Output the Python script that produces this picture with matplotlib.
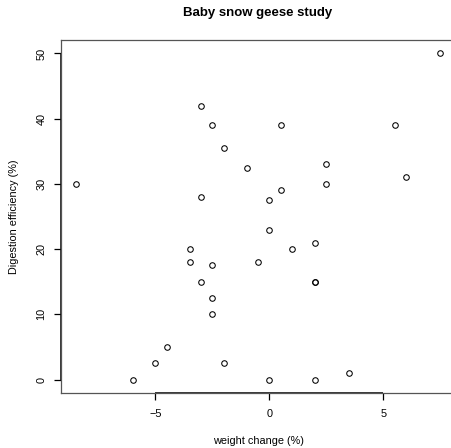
import matplotlib
matplotlib.use("Agg")
import matplotlib.pyplot as plt
import numpy as np

plt.rcParams['font.family'] = ['Liberation Sans', 'DejaVu Sans']

weight_change = [-8.5, -3, -2.5, -2, -1, -3, -3.5, -3.5, -2.5, -0.5,
                 0.5, 5.5, 2.5, 2.5, 6, 0.5, 0, 0, 1, 2,
                 2, 2, -3, -2.5, -2.5, -4.5, -5, -2, -6, 0,
                 2, 3.5, 7.5]
digestion_eff = [30, 42, 39, 35.5, 32.5, 28, 20, 18, 17.5, 18,
                 39, 39, 33, 30, 31, 29, 27.5, 23, 20, 21,
                 15, 15, 15, 12.5, 10, 5, 2.5, 2.5, 0, 0,
                 0, 1, 50]
x_ticks = [-5, 0, 5]
y_ticks = [0, 10, 20, 30, 40, 50]

W, H = 452, 448
fig = plt.figure(figsize=(W / 100, H / 100), dpi=100)
xlim = (-9.14, 8.14)
ylim = (-2, 52)
left_px, top_px, bottom_px = 61, 40.4, 392.7
px_per_x = 22.8
right_px = left_px + (xlim[1] - xlim[0]) * px_per_x
center_px = (left_px + right_px) / 2
ax = fig.add_axes([left_px / W, 1 - bottom_px / H,
                   (right_px - left_px) / W, (bottom_px - top_px) / H])
ax.set_xlim(*xlim)
ax.set_ylim(*ylim)

ax.plot(weight_change, digestion_eff, linestyle='none', marker='o',
        markersize=4.0, markerfacecolor='none', markeredgecolor='black',
        markeredgewidth=0.75)

for s in ax.spines.values():
    s.set_color('#555555')
    s.set_linewidth(0.9)

ax.set_xticks(x_ticks)
ax.set_yticks(y_ticks)
ax.set_xticklabels([str(t).replace('-', '\u2212') for t in x_ticks])
ax.set_yticklabels([str(t) for t in y_ticks], rotation=90, va='center')
ax.tick_params(axis='both', direction='out', length=5, width=0.9,
               labelsize=7.8, color='black', pad=6.5)
ax.tick_params(axis='y', pad=5.5)

# axis lines spanning tick range (R style)
ax.plot([x_ticks[0], x_ticks[-1]], [ylim[0], ylim[0]], color='black',
        lw=1.1, clip_on=False, solid_capstyle='butt')
ax.plot([xlim[0], xlim[0]], [y_ticks[0], y_ticks[-1]], color='black',
        lw=1.1, clip_on=False, solid_capstyle='butt')

fig.text(center_px / W, 1 - 13 / H, 'Baby snow geese study',
         ha='center', va='center', fontsize=9.5, fontweight='bold')
fig.text(center_px / W, 1 - 441 / H, 'weight change (%)', ha='center',
         va='center', fontsize=7.8)
fig.text(14 / W, 1 - 216.5 / H, 'Digestion efficiency (%)', ha='center',
         va='center', fontsize=7.8, rotation=90)

fig.savefig('out.png', dpi=100)
